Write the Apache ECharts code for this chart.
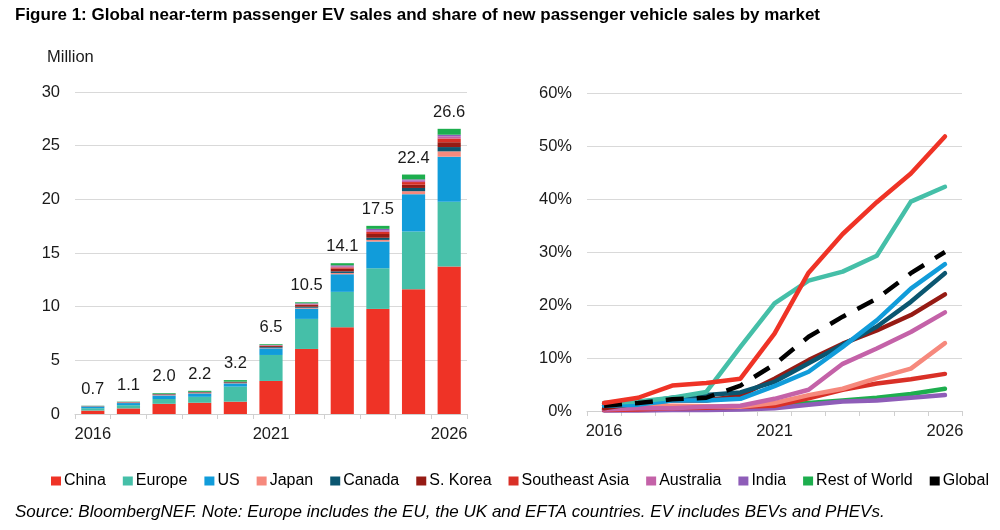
<!DOCTYPE html>
<html><head><meta charset="utf-8">
<script src="https://cdn.jsdelivr.net/npm/echarts@6/dist/echarts.min.js"></script>
<style>html,body{margin:0;padding:0;background:#fff}#c{width:1000px;height:530px}</style>
</head><body><div id="c"></div>
<script>
const years = ['2016','2017','2018','2019','2020','2021','2022','2023','2024','2025','2026'];
const regions = ['China','Europe','US','Japan','Canada','S. Korea','Southeast Asia','Australia','India','Rest of World'];
const colors = ['#EF3326','#45BFA8','#119CDA','#F6897D','#0B5670','#961B14','#D93027','#C462A8','#8E5DB8','#1DAE4E'];
const globalColor = '#000000';

// EV sales, million
const salesChina     = [0.32,0.52,0.95,1.05,1.15,3.08,6.06,8.08,9.79,11.63,13.74];
const salesEurope    = [0.22,0.30,0.45,0.55,1.40,2.42,2.80,3.30,3.79,5.37,6.03];
const salesUS        = [0.16,0.20,0.33,0.30,0.30,0.62,0.96,1.64,2.49,3.48,4.20];
const salesJapan     = [0.02,0.05,0.05,0.04,0.03,0.05,0.08,0.12,0.15,0.28,0.50];
const salesCanada    = [0.01,0.02,0.04,0.05,0.05,0.08,0.10,0.15,0.20,0.30,0.40];
const salesSKorea    = [0.01,0.015,0.03,0.04,0.05,0.10,0.15,0.25,0.35,0.30,0.45];
const salesSEA       = [0.005,0.01,0.01,0.01,0.01,0.02,0.05,0.12,0.20,0.25,0.35];
const salesAustralia = [0.005,0.005,0.01,0.01,0.01,0.03,0.06,0.10,0.15,0.15,0.20];
const salesIndia     = [0.005,0.005,0.01,0.01,0.01,0.02,0.05,0.09,0.13,0.10,0.15];
const salesRoW       = [0.02,0.03,0.07,0.10,0.15,0.08,0.10,0.20,0.28,0.45,0.55];
const salesTotals    = ['0.7','1.1','2.0','2.2','3.2','6.5','10.5','14.1','17.5','22.4','26.6'];

// share of new passenger vehicle sales, %
const shareChina     = [1.5,2.5,4.8,5.3,6.1,14.6,26.1,33.4,39.4,44.8,51.8];
const shareEurope    = [1.5,1.8,2.5,3.6,12.1,20.3,24.6,26.3,29.3,39.5,42.3];
const shareUS        = [1.0,1.2,2.0,2.0,2.3,4.7,7.4,12.1,17.1,23.1,27.7];
const shareJapan     = [0.6,1.0,1.0,0.9,0.8,1.5,3.0,4.2,6.2,8.0,12.8];
const shareCanada    = [1.0,1.5,2.5,3.0,3.5,5.5,9.0,12.5,15.9,20.6,26.0];
const shareSKorea    = [0.5,1.5,2.0,2.0,2.9,6.1,9.6,12.7,15.2,18.1,22.0];
const shareSEA       = [0.2,0.3,0.5,0.6,0.8,1.0,2.4,4.0,5.2,6.0,7.0];
const shareAustralia = [0.3,0.5,0.5,0.8,1.0,2.3,4.0,8.9,11.8,14.9,18.6];
const shareIndia     = [0.1,0.1,0.2,0.2,0.3,0.5,1.2,1.8,2.0,2.5,3.0];
const shareRoW       = [0.3,0.4,0.5,0.6,0.8,1.0,1.5,2.0,2.5,3.2,4.2];
const shareGlobal    = [1.0,1.5,2.2,2.5,4.8,8.8,14.0,17.8,21.2,26.0,30.0];

const yTicksLeft = {min:0, max:30, interval:5};
const yTicksRight = {min:0, max:60, interval:10};

const salesData = [salesChina,salesEurope,salesUS,salesJapan,salesCanada,salesSKorea,salesSEA,salesAustralia,salesIndia,salesRoW];
const shareData = [shareChina,shareEurope,shareUS,shareJapan,shareCanada,shareSKorea,shareSEA,shareAustralia,shareIndia,shareRoW];

const FONT = 'Liberation Sans, Arial, sans-serif';
const series = [];
regions.forEach((r,i)=>{
  const s = {name:r,type:'bar',stack:'sales',xAxisIndex:0,yAxisIndex:0,barWidth:'65%',
    itemStyle:{color:colors[i]},data:salesData[i],animation:false};
  if(i===regions.length-1){
    s.label={show:true,position:'top',distance:8,fontSize:16.5,color:'#1a1a1a',fontFamily:FONT,
      formatter:p=>salesTotals[p.dataIndex]};
  }
  series.push(s);
});
const lineOrder = [9,8,6,3,7,5,4,2,1,0];
lineOrder.forEach(i=>{
  series.push({name:regions[i],type:'line',xAxisIndex:1,yAxisIndex:1,data:shareData[i],
    symbol:'none',lineStyle:{width:4.5,color:colors[i],cap:'round',join:'round'},itemStyle:{color:colors[i]},z:3,animation:false});
});
series.push({name:'Global',type:'line',xAxisIndex:1,yAxisIndex:1,data:shareGlobal,symbol:'none',
  lineStyle:{width:4.5,color:globalColor,type:[18,13]},itemStyle:{color:globalColor},z:4,animation:false});
series.forEach(s=>{ if(s.type==='line' && s.name==='China') s.z=5; });

const axisX = (gi)=>({type:'category',gridIndex:gi,data:years,boundaryGap:true,
  axisLine:{lineStyle:{color:'#d0d0d0',width:1}},
  axisTick:{show:true,interval:0,length:5,lineStyle:{color:'#d0d0d0'}},
  axisLabel:{interval:4,fontSize:16.5,color:'#1a1a1a',fontFamily:FONT,margin:12}});

const option = {
  backgroundColor:'#fff',
  textStyle:{fontFamily:FONT},
  title:[
    {text:'Figure 1: Global near-term passenger EV sales and share of new passenger vehicle sales by market',
     left:15,top:7,padding:0,textStyle:{fontSize:17,fontWeight:'bold',color:'#000',fontFamily:FONT}},
    {text:'Million',left:47,top:49,padding:0,textStyle:{fontSize:16.5,fontWeight:'normal',color:'#1a1a1a',fontFamily:FONT}},
    {text:'Source: BloombergNEF. Note: Europe includes the EU, the UK and EFTA countries. EV includes BEVs and PHEVs.',
     left:15,top:504,padding:0,textStyle:{fontSize:17,fontWeight:'normal',fontStyle:'italic',color:'#000',fontFamily:FONT}}
  ],
  legend:{data:regions.concat(['Global']).map(n=>({name:n,icon:'rect'})),left:46,top:468,itemWidth:10,itemHeight:9,itemGap:17,
    textStyle:{fontSize:16,color:'#000',fontFamily:FONT,padding:[0,0,0,-2]},selectedMode:false},
  grid:[
    {left:75,right:533,top:92,bottom:116,containLabel:false},
    {left:587,right:38,top:93,bottom:119,containLabel:false}
  ],
  xAxis:[axisX(0),axisX(1)],
  yAxis:[
    {type:'value',gridIndex:0,min:yTicksLeft.min,max:yTicksLeft.max,interval:yTicksLeft.interval,
     axisLine:{show:false},axisTick:{show:false},splitLine:{lineStyle:{color:'#d9d9d9',width:1}},
     axisLabel:{fontSize:16.5,color:'#1a1a1a',fontFamily:FONT,margin:15}},
    {type:'value',gridIndex:1,min:yTicksRight.min,max:yTicksRight.max,interval:yTicksRight.interval,
     axisLine:{show:false},axisTick:{show:false},splitLine:{lineStyle:{color:'#d9d9d9',width:1}},
     axisLabel:{fontSize:16.5,color:'#1a1a1a',fontFamily:FONT,margin:15,formatter:'{value}%'}}
  ],
  series:series
};
const chart = echarts.init(document.getElementById('c'),null,{renderer:'canvas'});
chart.setOption(option);
</script></body></html>
